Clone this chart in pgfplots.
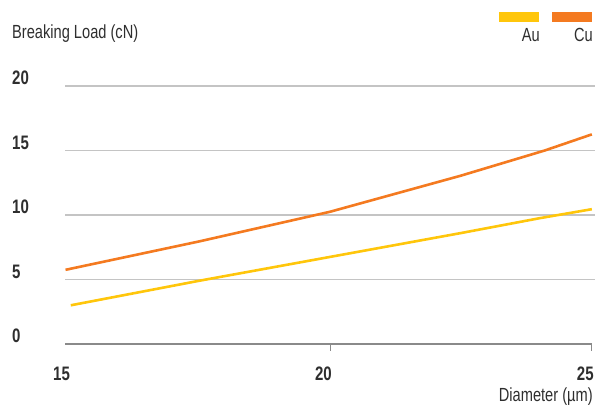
\documentclass[border=0pt]{standalone}
\usepackage{pgfplots}
\pgfplotsset{compat=1.18}
\usepackage{fontspec}
\setmainfont[FakeStretch=0.77]{Liberation Sans}
\definecolor{auY}{HTML}{FFC60B}
\definecolor{cuO}{HTML}{F47A20}
\definecolor{gridc}{HTML}{C4C4C4}
\definecolor{axisc}{HTML}{8A8A8A}
\definecolor{txt}{HTML}{2E2E2E}
\begin{document}
\begin{tikzpicture}[x=1pt,y=1pt]
\path[use as bounding box] (0,0) rectangle (607,406);
\begin{axis}[
  at={(65pt,62pt)}, anchor=south west,
  scale only axis, width=530pt, height=258pt,
  xmin=14.94, xmax=25.06, ymin=0, ymax=20,
  axis line style={draw=none},
  major tick length=0pt,
  clip=false,
  xtick={15,20,25}, ytick={0,5,10,15,20},
  /pgf/number format/assume math mode=true,
  ticklabel style={font=\bfseries\fontsize{19.5}{19.5}\selectfont, text=txt, inner sep=0pt},
  yticklabel style={anchor=west, xshift=-53pt, yshift=8pt},
  xticklabel style={anchor=north east, xshift=2pt, yshift=-23pt},
]
% gridlines
\addplot[gridc, line width=1.2pt, forget plot] coordinates {(14.94,5) (25.06,5)};
\addplot[gridc, line width=1.2pt, forget plot] coordinates {(14.94,10) (25.06,10)};
\addplot[gridc, line width=1.2pt, forget plot] coordinates {(14.94,15) (25.06,15)};
\addplot[gridc, line width=1.2pt, forget plot] coordinates {(14.94,20) (25.06,20)};
\addplot[axisc, line width=1.2pt, forget plot] coordinates {(14.94,0) (25,0)};
\addplot[axisc, line width=1.0pt, forget plot] coordinates {(20,0) (20,-0.55)};
\addplot[axisc, line width=1.0pt, forget plot] coordinates {(25,0) (25,-0.55)};
% data
\addplot[auY, line width=2.6pt] coordinates {(15.05,3.0) (17.5,4.9) (20,6.75) (22.5,8.6) (24,9.75) (25,10.45)};
\addplot[cuO, line width=2.6pt] coordinates {(14.95,5.75) (17.5,7.95) (20,10.25) (22.5,13.05) (24.1,15.0) (25,16.25)};
\node[anchor=east, font=\fontsize{19}{19}\selectfont, text=txt, inner sep=0pt] at (axis cs:25,0) [xshift=1pt, yshift=-53pt] {Diameter (µm)};
\end{axis}
\node[anchor=west, font=\fontsize{19}{19}\selectfont, text=txt, inner sep=0pt] at (12,372) {Breaking Load (cN)};
\fill[auY] (499,384) rectangle (539,394);
\fill[cuO] (552,384) rectangle (592,394);
\node[anchor=east, font=\fontsize{19}{19}\selectfont, text=txt, inner sep=0pt] at (540,371) {Au};
\node[anchor=east, font=\fontsize{19}{19}\selectfont, text=txt, inner sep=0pt] at (593,371) {Cu};
\end{tikzpicture}
\end{document}
